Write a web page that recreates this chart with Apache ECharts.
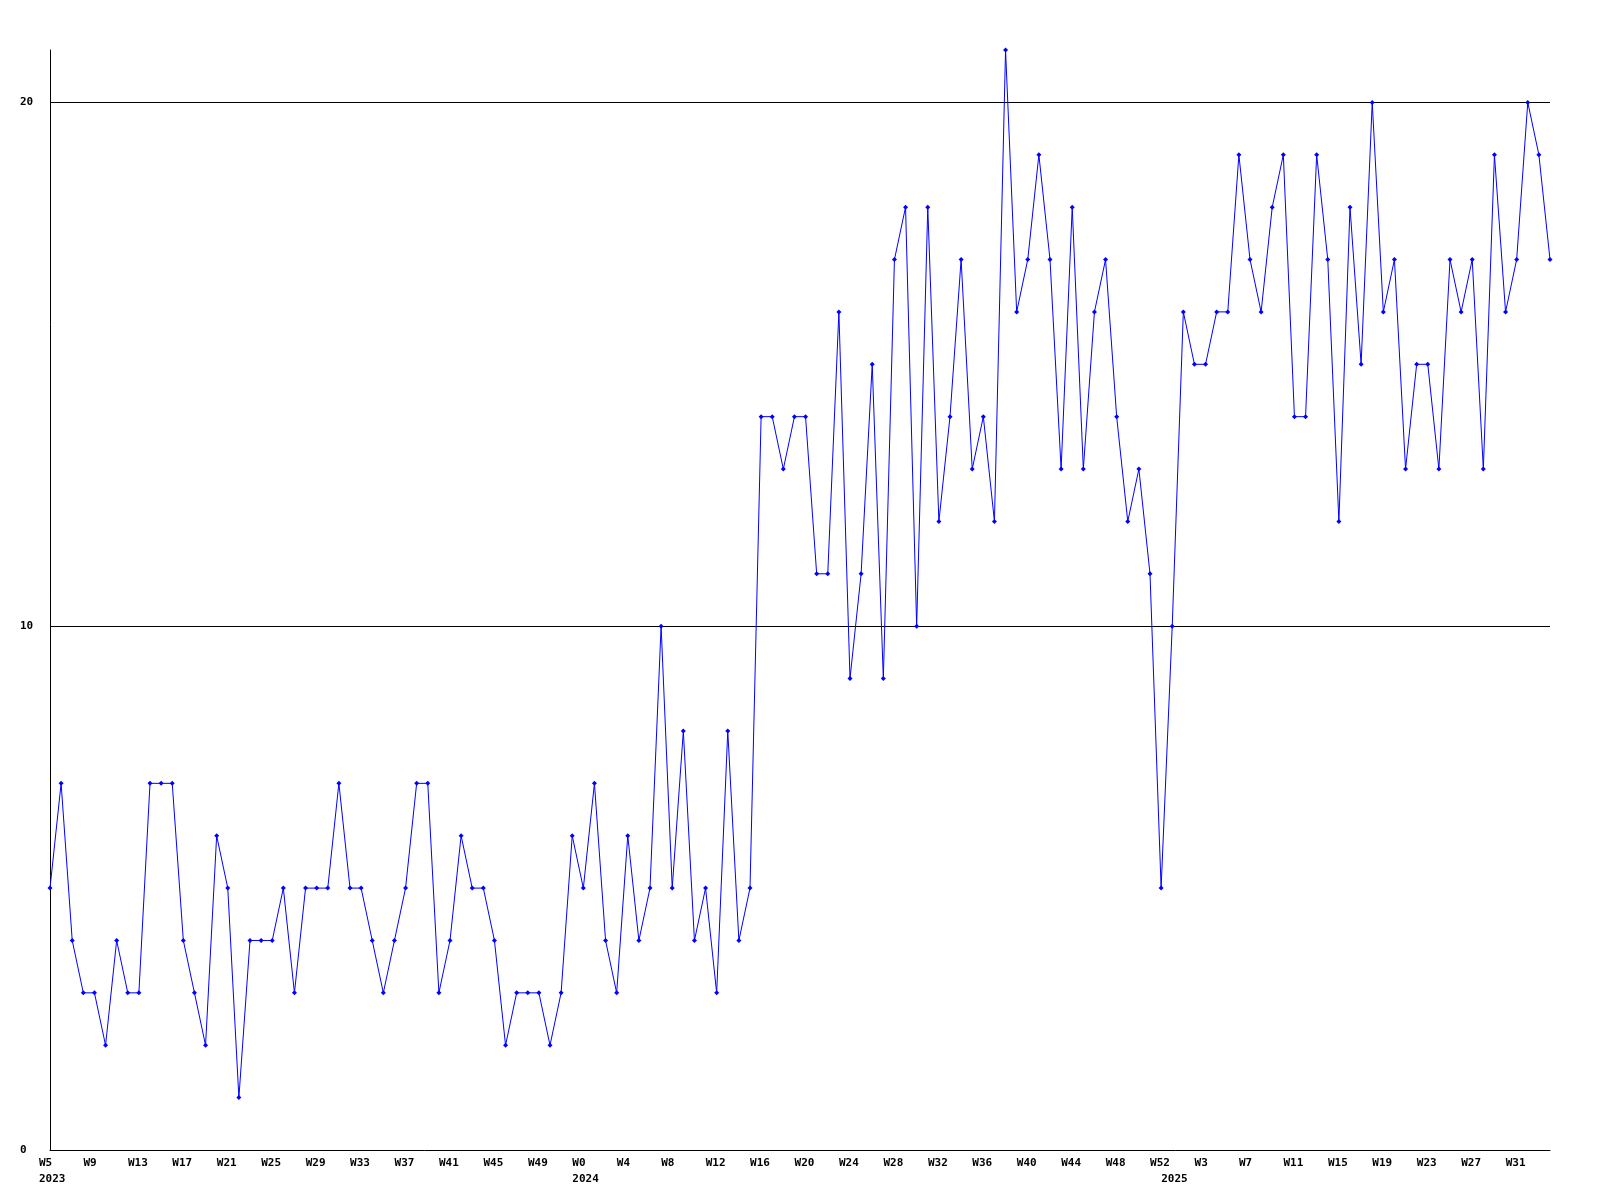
<!DOCTYPE html>
<html>
<head>
<meta charset="utf-8">
<style>html,body{margin:0;padding:0;background:#fff;}#c{width:1600px;height:1200px;}</style>
<script src="https://cdn.jsdelivr.net/npm/echarts@6/dist/echarts.min.js"></script>
</head>
<body>
<div id="c"></div>
<script>
// Week numbers per year (tick labels)
const weeks2023 = [5,6,7,8,9,10,11,12,13,14,15,16,17,18,19,20,21,22,23,24,25,26,27,28,29,30,31,32,33,34,35,36,37,38,39,40,41,42,43,44,45,46,47,48,49,50,51,52];
const weeks2024 = [0,1,2,3,4,5,6,7,8,9,10,11,12,13,14,15,16,17,18,19,20,21,22,23,24,25,26,27,28,29,30,31,32,33,34,35,36,37,38,39,40,41,42,43,44,45,46,47,48,49,50,51,52];
const weeks2025 = [0,1,2,3,4,5,6,7,8,9,10,11,12,13,14,15,16,17,18,19,20,21,22,23,24,25,26,27,28,29,30,31,32,33,34];

// Series values per year
const values2023 = [5,7,4,3,3,2,4,3,3,7,7,7,4,3,2,6,5,1,4,4,4,5,3,5,5,5,7,5,5,4,3,4,5,7,7,3,4,6,5,5,4,2,3,3,3,2,3,6];
const values2024 = [5,7,4,3,6,4,5,10,5,8,4,5,3,8,4,5,14,14,13,14,14,11,11,16,9,11,15,9,17,18,10,18,12,14,17,13,14,12,21,16,17,19,17,13,18,13,16,17,14,12,13,11,5];
const values2025 = [10,16,15,15,16,16,19,17,16,18,19,14,14,19,17,12,18,15,20,16,17,13,15,15,13,17,16,17,13,19,16,17,20,19,17];

const yTicks = [0, 10, 20];

const years = [[2023, weeks2023], [2024, weeks2024], [2025, weeks2025]];
const categories = [];
const yearStart = {};
years.forEach(([y, ws]) => {
  yearStart[categories.length] = y;
  ws.forEach(w => categories.push('W' + w));
});
const values = values2023.concat(values2024, values2025);

const chart = echarts.init(document.getElementById('c'), null, {renderer: 'canvas'});
const font = '"DejaVu Sans Mono", "Liberation Mono", monospace';
chart.setOption({
  animation: false,
  backgroundColor: '#ffffff',
  grid: {left: 50, right: 50, top: 50, bottom: 50, containLabel: false},
  xAxis: {
    type: 'category',
    data: categories,
    boundaryGap: false,
    axisLine: {show: true, lineStyle: {color: '#000', width: 1}},
    axisTick: {show: false},
    splitLine: {show: false},
    axisLabel: {
      interval: (i) => i % 4 === 0 || yearStart[i] !== undefined,
      hideOverlap: false,
      margin: 5,
      align: 'left',
      padding: [0, 0, 0, -11],
      color: '#000',
      fontFamily: font,
      fontWeight: 'bold',
      fontSize: 11,
      lineHeight: 16,
      formatter: (v, i) => {
        const wk = (i % 4 === 0) ? v : ' ';
        return yearStart[i] !== undefined ? wk + '\n' + yearStart[i] : wk;
      }
    }
  },
  yAxis: {
    type: 'value',
    min: yTicks[0],
    max: 21,
    interval: yTicks[1] - yTicks[0],
    axisLine: {show: true, lineStyle: {color: '#000', width: 1}},
    axisTick: {show: false},
    splitLine: {show: true, showMinLine: false, showMaxLine: false, lineStyle: {color: '#000', width: 1}},
    axisLabel: {
      showMaxLabel: false,
      align: 'left',
      margin: 30,
      color: '#000',
      fontFamily: font,
      fontWeight: 'bold',
      fontSize: 11
    }
  },
  series: [{
    type: 'line',
    data: values,
    showAllSymbol: true,
    symbol: 'diamond',
    symbolSize: 5,
    color: '#0000ff',
    lineStyle: {color: '#0000ff', width: 1},
    itemStyle: {color: '#0000ff'},
    emphasis: {disabled: true}
  }]
});
</script>
</body>
</html>
